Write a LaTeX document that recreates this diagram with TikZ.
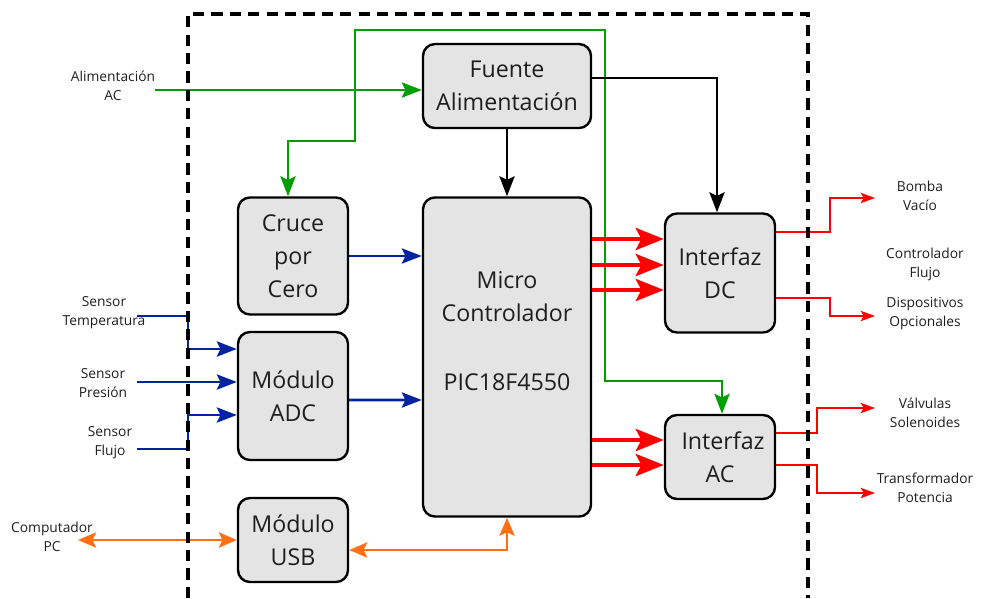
\documentclass[tikz,border=0pt]{standalone}
\usepackage{fontspec}
\setmainfont{Open Sans}
\usepackage{xcolor}
\usetikzlibrary{arrows.meta}
\usetikzlibrary{positioning, calc}
\definecolor{gris}{RGB}{228,228,228}
\definecolor{verde}{RGB}{0,158,0}
\definecolor{azul}{RGB}{0,36,160}
\definecolor{naranja}{RGB}{255,112,20}
\definecolor{texto}{RGB}{30,30,30}
\tikzset{
    bloque/.style = {draw=black, line width=1.7pt, fill=gris, rounded corners=0.3cm,
        align=center, inner sep=0pt, text=texto, font=\fontsize{16.5}{23.5}\selectfont},
    etiqueta/.style = {align=center, inner sep=0pt, text=texto, font=\fontsize{9.8}{13.5}\selectfont},
    marco/.style = {line width=2.4pt, dash pattern=on 0.28cm off 0.18cm},
    punta/.style = {-{Stealth[length=0.5cm,width=0.38cm,inset=0.09cm]}},
    lverde/.style = {draw=verde, line width=1.9pt, punta},
    lnegra/.style = {draw=black, line width=1.9pt, punta},
    lazul/.style = {draw=azul, line width=1.9pt, punta},
    lgruesa/.style = {draw=red, line width=3pt, -{Stealth[length=0.7cm,width=0.55cm,inset=0.14cm]}},
    lfina/.style = {draw=red, line width=1.2pt, -{Stealth[length=0.36cm,width=0.26cm,inset=0.08cm]}},
    lnaranja/.style = {draw=naranja, line width=1.9pt,
        {Stealth[length=0.45cm,width=0.38cm,inset=0.09cm]}-{Stealth[length=0.45cm,width=0.38cm,inset=0.09cm]}},
}

\begin{document}
\begin{tikzpicture}[x=0.025cm,y=-0.025cm]
    \useasboundingbox (0,0) rectangle (984,598);

    % bloques
    \node (micro) [bloque, minimum width=4.2cm, minimum height=7.975cm] at (507,357) {};
    \node (microtxt) [align=center, text=texto, font=\fontsize{16.5}{23.5}\selectfont] at (507,331)
        {Micro\\Controlador\\[0.9cm]PIC18F4550};
    \node (fuente) [bloque, minimum width=4.2cm, minimum height=2.1cm, above=1.675cm of micro] {Fuente\\Alimentación};
    \node (cruce) [bloque, minimum width=2.75cm, minimum height=2.925cm] at (293,256) {Cruce\\por\\Cero};
    \node (adc) [bloque, minimum width=2.75cm, minimum height=3.2cm] at (293,396) {Módulo\\ADC};
    \node (usb) [bloque, minimum width=2.75cm, minimum height=2.1cm] at (293,540) {Módulo\\USB};
    \node (dcif) [bloque, minimum width=2.75cm, minimum height=2.975cm] at (720,273) {Interfaz\\DC};
    \node (acif) [bloque, minimum width=2.75cm, minimum height=2.1cm] at (720,457) {\hspace{0.15cm}Interfaz\\AC};

    % etiquetas externas
    \node (alim) [etiqueta] at (113,86) {Alimentación\\AC};
    \node (stemp) [etiqueta] at (104,313) {Sensor\\Temperatura};
    \node (spres) [etiqueta] at (103,383) {Sensor\\Presión};
    \node (sflujo) [etiqueta] at (110,443) {Sensor\\Flujo};
    \node (pc) [etiqueta] at (52,537) {Computador\\PC};
    \node (bomba) [etiqueta] at (920,196) {Bomba\\Vacío};
    \node (ctrl) [etiqueta] at (925,264) {Controlador\\Flujo};
    \node (disp) [etiqueta] at (925,314) {Dispositivos\\Opcionales};
    \node (valv) [etiqueta] at (925,413) {Válvulas\\Solenoides};
    \node (trafo) [etiqueta] at (925,488) {Transformador\\Potencia};

    \coordinate (entAC) at (155,90);
    \coordinate (ramAC) at (355,90);
    \coordinate (inT) at (137,316);
    \coordinate (inP) at (137,382);
    \coordinate (inF) at (137,449);
    \coordinate (outPC) at (78,540);
    \coordinate (outB) at (875,198);
    \coordinate (outD) at (875,316);
    \coordinate (outV) at (875,408);
    \coordinate (outT) at (875,493);

    % alimentacion
    \draw[lverde] (entAC) -- (fuente.west |- entAC);
    \draw[lverde] (ramAC) -- (355,141) -| ([xshift=-0.125cm]cruce.north);
    \draw[lverde] (ramAC) -- (355,30) -- (605,30) -- (605,381) -| ([xshift=0.05cm]acif.north);
    \draw[lnegra] (fuente) -- (micro);
    \draw[lnegra] ([yshift=0.2cm]fuente.east) -| ([xshift=-0.075cm]dcif.north);

    % senales
    \draw[lazul] (cruce) -- (micro.west |- cruce);
    \draw[lazul] ([yshift=-0.1cm]adc.east) -- (micro.west |- 0,400);
    \draw[lazul] (inT) -- (188,316) -- (188,349) -- (adc.west |- 0,349);
    \draw[lazul] (inP) -- (adc.west |- 0,382);
    \draw[lazul] (inF) -- (188,449) -- (188,415) -- (adc.west |- 0,415);

    % salidas
    \foreach \y in {239,265,290}
        \draw[lgruesa] (micro.east |- 0,\y) -- (dcif.west |- 0,\y);
    \foreach \y in {440,465}
        \draw[lgruesa] (micro.east |- 0,\y) -- (acif.west |- 0,\y);
    \draw[lfina] (dcif.east |- 0,232) -- (830,232) -- (830,198) -- (outB);
    \draw[lfina] (dcif.east |- 0,298) -- (830,298) -- (830,316) -- (outD);
    \draw[lfina] (acif.east |- 0,433) -- (817,433) -- (817,408) -- (outV);
    \draw[lfina] (acif.east |- 0,465) -- (817,465) -- (817,493) -- (outT);

    % usb
    \draw[lnaranja] (outPC) -- (usb.west);
    \draw[lnaranja] ([yshift=-0.25cm]usb.east) -| (micro.south);

    % limite de la placa
    \draw[marco] (188,598) -- (188,14) -- (808,14) -- (808,598);
\end{tikzpicture}
\end{document}
